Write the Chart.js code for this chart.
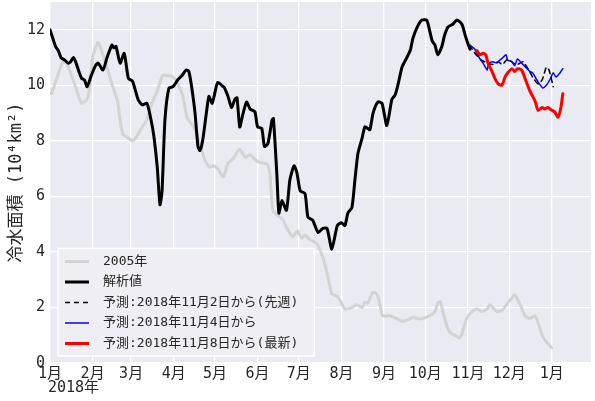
<!DOCTYPE html>
<html>
<head>
<meta charset="utf-8">
<script src="https://cdn.jsdelivr.net/npm/chart.js@4/dist/chart.umd.min.js"></script>
<style>
  html, body { margin: 0; padding: 0; background: #fff; }
  #wrap { width: 595px; height: 401px; }
</style>
</head>
<body>
<div id="wrap"><canvas id="chart" width="595" height="401"></canvas></div>
<script>
// x values are days since 2018-01-01
const monthDays = [0, 31, 59, 90, 120, 151, 181, 212, 243, 273, 304, 334, 365];
const monthLabels = ['1月', '2月', '3月', '4月', '5月', '6月', '7月', '8月', '9月', '10月', '11月', '12月', '1月'];
const yTicks = [0, 2, 4, 6, 8, 10, 12];

const days2005 = [1, 3.6, 7, 9.5, 12, 16, 19.6, 23, 27, 29, 31, 35, 38.5, 42, 45, 49, 51, 53, 57, 60,
  63, 67, 70.5, 74, 78, 80, 82, 86, 89.5, 93, 96.7, 99.6, 103, 105.5, 109, 112.7, 116, 118.5, 122, 126,
  129.5, 133, 138, 142, 145.5, 151, 158, 160, 162, 166, 169.5, 173, 176.7, 180, 183, 185.5, 189, 194,
  198.5, 201.5, 205, 209, 211, 214.5, 219.6, 223, 227, 229, 231, 235, 238, 240, 242, 247, 252, 256,
  260, 264, 267.6, 271, 276, 280, 282, 284, 286, 289, 291, 294.5, 298, 300, 303, 307, 310.5, 314,
  318, 320, 322, 325, 329, 332, 336, 338, 342, 345.5, 349, 352.7, 355, 358.5, 362, 365];
const vals2005 = [9.7, 10.05, 10.55, 10.85, 10.8, 10.3, 9.8, 9.35, 9.5, 9.95, 11.0, 11.55, 11.1, 10.55, 10.05, 9.45, 8.75, 8.25, 8.1, 8.0,
  8.15, 8.5, 8.75, 9.35, 9.8, 10.1, 10.35, 10.35, 10.3, 10.05, 9.6, 8.85, 8.6, 8.4, 7.9, 7.3, 7.05, 7.1, 7.0, 6.7,
  7.2, 7.35, 7.7, 7.4, 7.5, 7.25, 7.15, 6.8, 5.5, 5.3, 5.15, 4.8, 4.55, 4.75, 4.5, 4.6, 4.45, 4.3,
  3.8, 3.25, 2.5, 2.4, 2.25, 1.95, 2.0, 2.1, 2.0, 2.2, 2.15, 2.55, 2.45, 2.1, 1.7, 1.7, 1.6, 1.5,
  1.55, 1.65, 1.6, 1.6, 1.7, 1.85, 2.15, 2.2, 1.8, 1.3, 1.1, 1.0, 0.9, 1.1, 1.6, 1.85, 1.95, 1.85,
  1.95, 2.1, 2.0, 1.85, 1.9, 2.1, 2.35, 2.45, 2.1, 1.7, 1.6, 1.7, 1.45, 0.95, 0.7, 0.55];

const daysAnalysis = [0, 2, 4, 6, 8, 11, 13, 15, 17, 19, 21, 23, 25, 27, 30, 33, 35, 38.5, 41.5, 45,
  46.5, 48, 51, 54, 57, 60, 64, 67, 70.5, 73.5, 75.6, 78, 80, 81.5, 83.6, 86.5, 89.5, 93, 96, 99,
  101, 103, 105.5, 107.6, 109, 111, 114, 115.6, 118, 120, 122, 126, 127, 129.5, 132, 134.5, 136, 138, 140, 143,
  145.5, 149, 151, 154, 156, 158.5, 161.5, 162.5, 165, 166.5, 168.7, 172, 174.5, 177.5, 179.6, 182, 185.5, 187.6, 191, 195,
  198.5, 201.5, 205, 209, 212, 214.5, 216.7, 219.6, 221.8, 224, 227, 229, 231, 232.7, 235, 238.5, 241.5, 245, 248.7, 251,
  253, 256, 258, 262, 264, 267.6, 270.5, 274, 276, 278, 280, 282, 285, 287, 289.5, 293, 296, 299.6, 302, 304, 305.5];
const valsAnalysis = [12.0, 11.7, 11.4, 11.25, 11.0, 10.9, 10.8, 10.85, 11.0, 10.8, 10.5, 10.25, 10.2, 9.95, 10.35, 10.7, 10.8, 10.55, 11.0, 11.45,
  11.35, 11.4, 10.8, 11.15, 10.25, 10.15, 9.5, 9.3, 9.35, 8.75, 8.15, 7.05, 5.7, 6.2, 8.75, 9.9, 9.95, 10.2, 10.35, 10.55,
  10.5, 9.95, 9.0, 7.8, 7.65, 8.0, 9.1, 9.6, 9.35, 9.75, 10.1, 9.95, 9.9, 9.6, 9.2, 9.5, 9.55, 8.5, 8.9, 9.4,
  9.15, 9.05, 8.5, 8.45, 7.8, 7.9, 8.75, 8.8, 6.8, 5.4, 5.85, 5.5, 6.6, 7.1, 6.85, 6.2, 6.1, 5.25, 5.15, 4.7,
  4.85, 4.85, 4.1, 4.95, 5.05, 4.95, 5.4, 5.6, 6.6, 7.55, 8.1, 8.5, 8.45, 8.4, 9.0, 9.4, 9.35, 8.55, 9.5, 9.65,
  10.0, 10.65, 10.85, 11.25, 11.7, 12.15, 12.35, 12.35, 12.0, 11.6, 11.45, 11.1, 11.4, 11.8, 12.1, 12.2, 12.35, 12.2, 11.8, 11.5, 11.3];

const daysNov2 = [305, 310, 314, 318.5, 322, 326, 329, 333, 337, 340, 344, 347.6, 351, 355, 358, 361, 363, 366];
const valsNov2 = [11.45, 11.1, 10.9, 10.8, 10.75, 10.85, 10.75, 10.95, 10.8, 10.75, 10.85, 10.6, 10.3, 10.05, 10.2, 10.65, 10.55, 9.95];

const daysNov4 = [305.5, 309, 312.7, 315, 318, 319, 322, 325, 327, 329.5, 331.6, 333, 336, 338, 340, 343, 347, 349, 351, 354,
  356, 358.5, 361, 363.6, 366, 368, 371, 373];
const valsNov4 = [11.45, 11.3, 10.95, 10.8, 10.55, 10.8, 10.85, 10.8, 10.9, 11.0, 11.1, 10.9, 10.85, 10.7, 10.95, 10.8, 10.6, 10.5, 10.45, 10.2,
  10.05, 9.9, 10.0, 10.2, 10.45, 10.3, 10.45, 10.6];

const daysNov8 = [310.5, 312.7, 315, 317, 318.5, 321.5, 323.6, 326, 328.7, 331, 333, 336, 338, 340, 343, 345.5, 349, 352.7, 355, 358,
  360, 362, 365, 367, 369.5, 371.6, 373];
const valsNov8 = [11.25, 11.1, 11.15, 11.1, 10.8, 10.5, 10.25, 10.05, 10.0, 10.3, 10.45, 10.6, 10.5, 10.6, 10.55, 10.25, 9.8, 9.45, 9.1, 9.2,
  9.15, 9.2, 9.1, 9.05, 8.85, 9.2, 9.7];

const FONT = '"DejaVu Sans Mono", "Noto Sans CJK JP", sans-serif';

function toPoints(days, vals) {
    return days.map((d, i) => ({ x: d, y: vals[i] }));
}

function makeLine(label, days, vals, color, width, dash, order) {
    return {
        label: label,
        data: toPoints(days, vals),
        borderColor: color,
        borderWidth: width,
        borderDash: dash,
        borderJoinStyle: 'round',
        borderCapStyle: 'round',
        pointRadius: 0,
        tension: 0.2,
        fill: false,
        order: order
    };
}

// grey plot background like seaborn darkgrid
const plotBackground = {
    id: 'plotBackground',
    beforeDraw(chart) {
        const a = chart.chartArea;
        const ctx = chart.ctx;
        ctx.save();
        ctx.fillStyle = '#EAEAF2';
        ctx.fillRect(a.left, a.top, a.right - a.left, a.bottom - a.top);
        ctx.restore();
    }
};

// legend box in the lower left corner of the plot
const boxLegend = {
    id: 'boxLegend',
    afterDatasetsDraw(chart) {
        const ctx = chart.ctx;
        const a = chart.chartArea;
        const sets = chart.data.datasets;
        const rowH = 20.5;
        ctx.save();
        ctx.font = '13px ' + FONT;
        let maxW = 0;
        sets.forEach((s) => { maxW = Math.max(maxW, ctx.measureText(s.label).width); });
        const x0 = a.left + 8;
        const h = rowH * sets.length + 5;
        const y0 = a.bottom - 7 - h;
        const w = 45 + maxW + 16;
        ctx.fillStyle = '#EEEEF4';
        ctx.fillRect(x0, y0, w, h);
        ctx.strokeStyle = '#FFFFFF';
        ctx.lineWidth = 1.5;
        ctx.strokeRect(x0, y0, w, h);
        sets.forEach((s, i) => {
            const y = y0 + 13 + i * rowH;
            ctx.beginPath();
            ctx.strokeStyle = s.borderColor;
            ctx.lineWidth = s.borderWidth;
            ctx.setLineDash(s.borderDash || []);
            ctx.moveTo(x0 + 7, y);
            ctx.lineTo(x0 + 31, y);
            ctx.stroke();
            ctx.setLineDash([]);
            ctx.fillStyle = '#262626';
            ctx.textAlign = 'left';
            ctx.textBaseline = 'middle';
            ctx.fillText(s.label, x0 + 45, y);
        });
        ctx.restore();
    }
};

// year under the first month label
const yearLabel = {
    id: 'yearLabel',
    afterDraw(chart) {
        const ctx = chart.ctx;
        const x = chart.scales.x.getPixelForValue(0);
        ctx.save();
        ctx.font = '15px ' + FONT;
        ctx.fillStyle = '#262626';
        ctx.textAlign = 'left';
        ctx.textBaseline = 'middle';
        ctx.fillText('2018年', x - 2, chart.chartArea.bottom + 25);
        ctx.restore();
    }
};

const ctxt = document.getElementById('chart').getContext('2d');

new Chart(ctxt, {
    type: 'line',
    data: {
        datasets: [
            makeLine('2005年', days2005, vals2005, '#D3D3D3', 3, [], 5),
            makeLine('解析値', daysAnalysis, valsAnalysis, '#000000', 3, [], 4),
            makeLine('予測:2018年11月2日から(先週)', daysNov2, valsNov2, '#000000', 1.5, [5, 4], 3),
            makeLine('予測:2018年11月4日から', daysNov4, valsNov4, '#0000FF', 1.5, [], 2),
            makeLine('予測:2018年11月8日から(最新)', daysNov8, valsNov8, '#FF0000', 3, [], 1)
        ]
    },
    options: {
        responsive: false,
        animation: false,
        devicePixelRatio: 1,
        layout: { padding: { top: 2, right: 4, left: 0, bottom: 0 } },
        plugins: {
            legend: { display: false },
            tooltip: { enabled: false }
        },
        scales: {
            x: {
                type: 'linear',
                min: 0,
                max: 393.5,
                afterBuildTicks: (scale) => {
                    scale.ticks = monthDays.map((d) => ({ value: d }));
                },
                afterFit: (scale) => {
                    scale.height = 38;
                    scale.paddingLeft = 0;
                    scale.paddingRight = 0;
                },
                ticks: {
                    autoSkip: false,
                    maxRotation: 0,
                    padding: 2,
                    color: '#262626',
                    font: { family: FONT, size: 15 },
                    callback: (value) => monthLabels[monthDays.indexOf(value)]
                },
                grid: { color: '#FFFFFF', lineWidth: 1.3, drawTicks: false },
                border: { display: false }
            },
            y: {
                min: 0,
                max: 13,
                afterBuildTicks: (scale) => {
                    scale.ticks = yTicks.map((v) => ({ value: v }));
                },
                afterFit: (scale) => {
                    scale.width = 50;
                    scale.paddingTop = 0;
                    scale.paddingBottom = 0;
                },
                ticks: {
                    padding: 5,
                    color: '#262626',
                    font: { family: FONT, size: 15 },
                    callback: (value) => String(value)
                },
                title: {
                    display: true,
                    text: '冷水面積 (10⁴km²)',
                    color: '#262626',
                    font: { family: FONT, size: 17 },
                    padding: { top: 6, bottom: 0 }
                },
                grid: { color: '#FFFFFF', lineWidth: 1.3, drawTicks: false },
                border: { display: false }
            }
        }
    },
    plugins: [plotBackground, boxLegend, yearLabel]
});
</script>
</body>
</html>
